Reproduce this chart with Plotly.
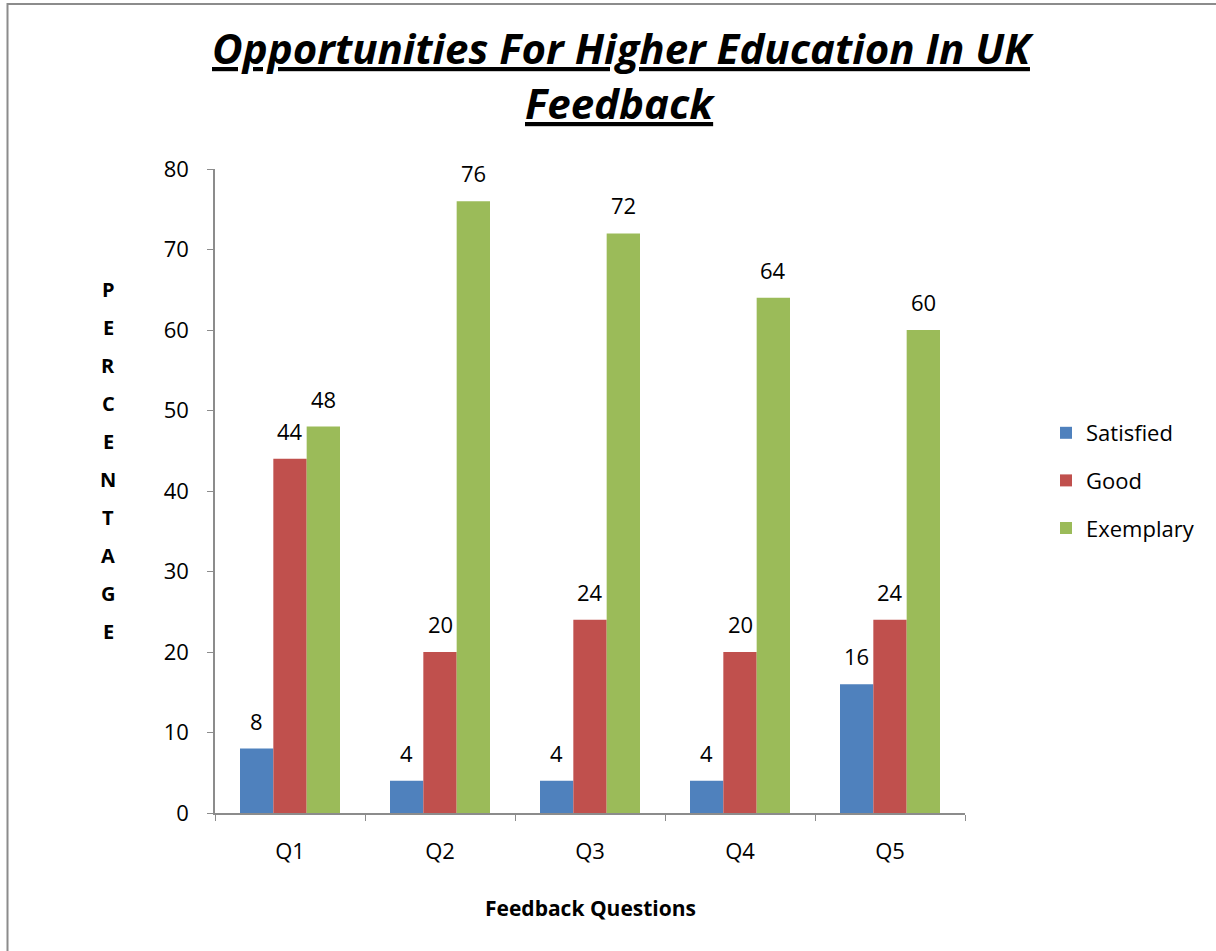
import plotly.graph_objects as go

categories = ["Q1", "Q2", "Q3", "Q4", "Q5"]
satisfied = [8, 4, 4, 4, 16]
good = [44, 20, 24, 20, 24]
exemplary = [48, 76, 72, 64, 60]
series_names = ["Satisfied", "Good", "Exemplary"]
colors = ["#4F81BD", "#C0504D", "#9BBB59"]
y_ticks = [0, 10, 20, 30, 40, 50, 60, 70, 80]
title_lines = ["Opportunities For Higher Education In UK", "Feedback"]
y_title = "PERCENTAGE"
x_title = "Feedback Questions"

FONT = "Open Sans"
W, H = 1216, 951
L, R, T, B = 215, 251, 169, 138
PW, PH = W - L - R, H - T - B
BAR_W = PW / len(categories) * (2 / 3) / 3

def px_x(px):
    return (px - L) / PW

def px_y(py):
    return (H - B - py) / PH

fig = go.Figure()
all_series = [satisfied, good, exemplary]
for name, vals, col in zip(series_names, all_series, colors):
    fig.add_trace(go.Bar(
        x=categories, y=vals, name=name,
        marker=dict(color=col, line=dict(width=0)),
        legendgroup=name, hoverinfo="x+y+name",
    ))

annotations = []
# data labels
for si, vals in enumerate(all_series):
    for cat, v in zip(categories, vals):
        annotations.append(dict(
            text=str(v), x=cat, y=v, xref="x", yref="y",
            xshift=(si - 1) * BAR_W, yshift=11,
            showarrow=False, xanchor="center", yanchor="bottom",
            font=dict(family=FONT, size=22, color="black"),
        ))
annotations.append(dict(
    text="<b><i><u>" + title_lines[0] + "</u></i></b>",
    x=px_x(623), y=px_y(48), xref="paper", yref="paper",
    showarrow=False, xanchor="center", yanchor="middle",
    font=dict(family=FONT, size=42, color="black"),
))
annotations.append(dict(
    text="<b><i><u>" + title_lines[1] + "</u></i></b>",
    x=px_x(620), y=px_y(102), xref="paper", yref="paper",
    showarrow=False, xanchor="center", yanchor="middle",
    font=dict(family=FONT, size=42, color="black"),
))
for i, ch in enumerate(y_title):
    annotations.append(dict(
        text="<b>" + ch + "</b>", x=px_x(108), y=px_y(289 + 38.1 * i),
        xref="paper", yref="paper", showarrow=False,
        xanchor="center", yanchor="middle",
        font=dict(family=FONT, size=20, color="black"),
    ))
annotations.append(dict(
    text="<b>" + x_title + "</b>", x=px_x(590), y=px_y(908),
    xref="paper", yref="paper", showarrow=False,
    xanchor="center", yanchor="middle",
    font=dict(family=FONT, size=21, color="black"),
))

fig.update_layout(
    width=W, height=H, autosize=False,
    margin=dict(l=L, r=R, t=T, b=B, pad=0),
    paper_bgcolor="white", plot_bgcolor="white",
    barmode="group", bargap=1/3, bargroupgap=0,
    showlegend=True,
    legend=dict(
        x=px_x(1046), y=px_y(412), xanchor="left", yanchor="top",
        font=dict(family=FONT, size=22, color="black"),
        traceorder="grouped", tracegroupgap=16,
        bgcolor="rgba(0,0,0,0)",
    ),
    annotations=annotations,
    shapes=[dict(
        type="rect", xref="paper", yref="paper", layer="below",
        x0=px_x(7.5), x1=px_x(1300), y0=px_y(1100), y1=px_y(4),
        line=dict(color="#8C8C8C", width=2), fillcolor="rgba(0,0,0,0)",
    )],
    font=dict(family=FONT, color="black"),
)
fig.update_xaxes(
    showline=True, linecolor="#8C8C8C", linewidth=1.5,
    ticks="outside", tickson="boundaries", ticklen=6, tickcolor="#8C8C8C",
    tickfont=dict(family=FONT, size=22, color="black"),
    ticklabelstandoff=18, showgrid=False, zeroline=False,
)
fig.update_yaxes(
    range=[0, 80], tickvals=y_ticks, showline=True, linecolor="#8C8C8C", linewidth=1.5,
    ticks="outside", ticklen=6, tickcolor="#8C8C8C",
    tickfont=dict(family=FONT, size=22, color="black"),
    ticklabelstandoff=14, showgrid=False, zeroline=False,
)

fig.write_html("out.html")
